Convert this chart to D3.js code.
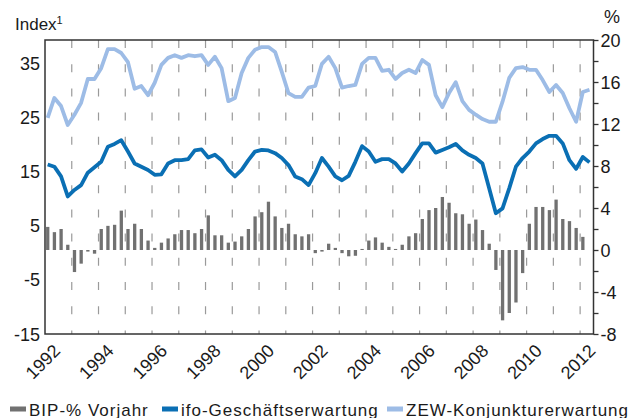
<!DOCTYPE html>
<html>
<head>
<meta charset="utf-8">
<script src="https://cdn.jsdelivr.net/npm/d3@7"></script>
<style>
  body { margin: 0; background: #fff; }
  text { font-family: "Liberation Sans", Arial, Helvetica, sans-serif; fill: #1a1a1a; }
</style>
</head>
<body>
<div id="chart"></div>
<script>
// quarterly series, 1992Q1 ...
const startYear = 1992;

// BIP, % vs. previous year (right axis)
const bip = [
  2.2, 1.7, 2.0, 0.5,
  -2.1, -1.3, -0.15, -0.35,
  2.0, 2.3, 2.4, 3.75,
  2.0, 2.5, 2.0, 0.9,
  0.2, 0.7, 1.1, 1.5,
  1.9, 1.9, 1.6, 2.0,
  3.3, 1.4, 1.4, 0.7,
  0.8, 1.3, 2.0, 3.2,
  3.6, 4.6, 3.2, 2.1,
  2.5, 1.5, 1.3, 1.5,
  -0.3, -0.15, 0.6, 0.2,
  -0.3, -0.6, -0.55, 0.1,
  0.9, 1.2, 0.7, 0.3,
  0.1, 0.5, 1.3, 1.6,
  2.95, 3.8, 4.0, 5.05,
  4.5, 3.5, 3.4, 2.5,
  2.9, 1.9, 0.6, -1.9,
  -6.7, -6.0, -5.0, -2.2,
  2.5, 4.1, 4.1, 3.8,
  4.8, 2.95, 2.75, 2.1,
  1.25
];

// ifo-Geschäftserwartung (left axis)
const ifo = [
  16.3, 15.9, 14.1, 10.4,
  11.6, 12.5, 14.8, 15.8,
  16.8, 19.6, 20.1, 20.8,
  18.7, 16.5, 15.9, 15.3,
  14.4, 14.5, 16.5, 17.1,
  17.1, 17.3, 18.9, 19.1,
  17.6, 18.1, 17.1, 15.3,
  14.1, 15.3, 17.1, 18.7,
  19.0, 18.9, 18.4, 17.5,
  16.2, 14.1, 13.6, 12.5,
  14.7, 17.5, 15.9, 14.1,
  13.4, 14.2, 16.8, 19.7,
  18.7, 16.8, 17.3, 17.3,
  16.5, 15.0, 16.5, 18.4,
  20.2, 20.2, 18.5, 19.0,
  19.5, 20.1, 18.9, 18.1,
  17.5, 16.5, 11.9, 7.3,
  8.2, 11.9, 15.9, 17.5,
  18.7, 20.2, 21.0, 21.6,
  21.6, 20.2, 17.1, 15.5,
  17.7, 16.7
];

// ZEW-Konjunkturerwartung (left axis)
const zew = [
  24.9, 28.6, 27.1, 23.6,
  25.5, 27.7, 32.1, 32.1,
  34.1, 37.6, 37.6, 36.9,
  35.2, 30.3, 30.8, 29.1,
  31.4, 34.7, 36.0, 36.5,
  36.0, 36.5, 36.3, 36.5,
  34.7, 36.2, 34.1, 28.0,
  28.6, 33.2, 36.0, 37.5,
  38.0, 38.0, 37.1, 33.4,
  29.5, 28.8, 28.8, 30.5,
  30.8, 34.9, 36.2, 34.1,
  30.5, 30.8, 31.0, 34.9,
  36.0, 36.0, 33.6, 33.8,
  32.1, 33.2, 33.8, 33.2,
  35.6, 34.7, 29.1, 26.9,
  29.5, 31.5, 28.0, 26.4,
  25.5, 24.7, 24.2, 24.2,
  27.9, 32.3, 34.1, 34.3,
  33.8, 33.8, 31.9, 29.7,
  31.0, 29.5, 26.7, 24.2,
  29.7, 30.1
];

const yearLabels = d3.range(1992, 2013, 2);
const leftTicks = [-15, -5, 5, 15, 25, 35];
const rightTicks = [-8, -4, 0, 4, 8, 12, 16, 20];

const legendItems = [
  { label: "BIP-% Vorjahr", color: "#717171" },
  { label: "ifo-Geschäftserwartung", color: "#0a6fb4" },
  { label: "ZEW-Konjunkturerwartung", color: "#9dbce6" }
];

const W = 630, H = 418;
const plot = { left: 45, right: 593.5, top: 40, bottom: 334 };

const svg = d3.select("#chart").append("svg")
  .attr("width", W).attr("height", H);

const x = d3.scaleLinear().domain([1992, 2012.5]).range([plot.left, plot.right]);
const yL = d3.scaleLinear().domain([-15, 39.3]).range([plot.bottom, plot.top]);
const yR = d3.scaleLinear().domain([-8, 20]).range([plot.bottom, plot.top]);

const qt = i => startYear + i / 4 + 0.1;

// dashed year grid
svg.append("g")
  .selectAll("line")
  .data(d3.range(1993, 2013))
  .join("line")
  .attr("x1", d => x(d)).attr("x2", d => x(d))
  .attr("y1", plot.top).attr("y2", plot.bottom)
  .attr("stroke", "#9a9a9a")
  .attr("stroke-width", 1.2)
  .attr("stroke-dasharray", "8,16.2");

// bars
svg.append("g")
  .selectAll("rect")
  .data(bip)
  .join("rect")
  .attr("x", (d, i) => x(qt(i)) - 1.6)
  .attr("width", 3.3)
  .attr("y", d => Math.min(yR(d), yR(0)))
  .attr("height", d => Math.abs(yR(d) - yR(0)))
  .attr("fill", "#717171");

// lines
const line = d3.line()
  .x((d, i) => x(qt(i)))
  .y(d => yL(d));

svg.append("path")
  .datum(zew)
  .attr("d", line)
  .attr("fill", "none")
  .attr("stroke", "#9dbce6")
  .attr("stroke-width", 3.8)
  .attr("stroke-linejoin", "round");

svg.append("path")
  .datum(ifo)
  .attr("d", line)
  .attr("fill", "none")
  .attr("stroke", "#0a6fb4")
  .attr("stroke-width", 3.8)
  .attr("stroke-linejoin", "round");

// frame
svg.append("rect")
  .attr("x", plot.left).attr("y", plot.top)
  .attr("width", plot.right - plot.left)
  .attr("height", plot.bottom - plot.top)
  .attr("fill", "none")
  .attr("stroke", "#333")
  .attr("stroke-width", 1.5);

// right axis
const rAxis = svg.append("g")
  .attr("transform", `translate(${plot.right},0)`)
  .call(d3.axisRight(yR).tickValues(d3.range(-8, 21, 2)).tickSize(5).tickFormat(""));
rAxis.select(".domain").remove();
rAxis.selectAll("line").attr("stroke", "#333").attr("stroke-width", 1.3);

svg.append("g")
  .selectAll("text")
  .data(rightTicks)
  .join("text")
  .attr("x", plot.right + 7)
  .attr("y", d => yR(d) + 6.5)
  .attr("font-size", 18)
  .text(d => d);

// left labels
svg.append("g")
  .selectAll("text")
  .data(leftTicks)
  .join("text")
  .attr("x", 40)
  .attr("y", d => yL(d) + 6.5)
  .attr("text-anchor", "end")
  .attr("font-size", 18)
  .text(d => d);

// year labels
svg.append("g")
  .selectAll("text")
  .data(yearLabels)
  .join("text")
  .attr("transform", d => `translate(${x(d + 0.5) + 3},352) rotate(-45)`)
  .attr("text-anchor", "end")
  .attr("font-size", 18)
  .text(d => d);

// axis titles
const t = svg.append("text").attr("x", 15).attr("y", 30).attr("font-size", 17);
t.append("tspan").text("Index");
t.append("tspan").attr("font-size", 11).attr("dy", -6).text("1");

svg.append("text").attr("x", 604).attr("y", 23).attr("font-size", 18).text("%");

// legend
const legendX = [10, 162, 387];
const lg = svg.append("g")
  .selectAll("g")
  .data(legendItems)
  .join("g")
  .attr("transform", (d, i) => `translate(${legendX[i]},409)`);
lg.append("rect")
  .attr("x", 0).attr("y", -2.5).attr("width", 16).attr("height", 5)
  .attr("fill", d => d.color);
lg.append("text")
  .attr("x", 19).attr("y", 6.5)
  .attr("font-size", 17)
  .attr("letter-spacing", 1.0)
  .text(d => d.label);
</script>
</body>
</html>
